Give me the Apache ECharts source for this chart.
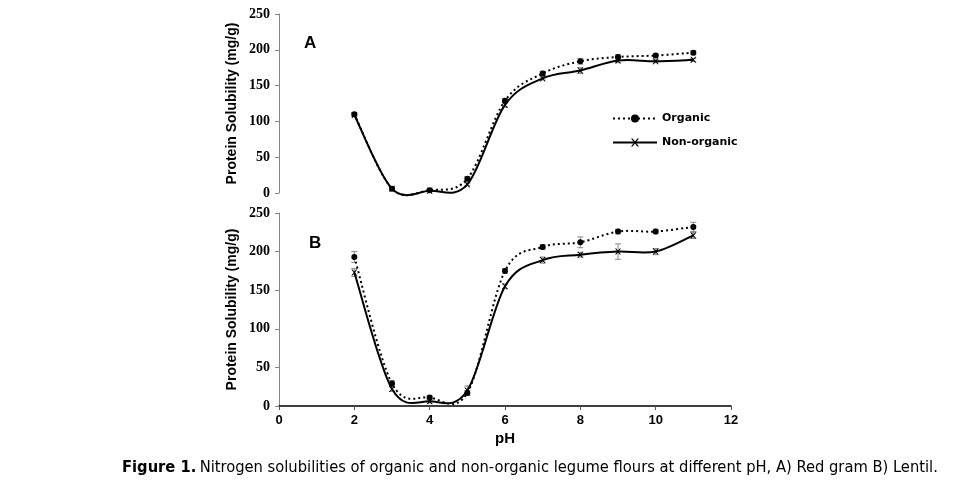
<!DOCTYPE html>
<html><head><meta charset="utf-8">
<script src="https://cdn.jsdelivr.net/npm/echarts@6/dist/echarts.min.js"></script>
<style>html,body{margin:0;padding:0;background:#fff}#c{width:968px;height:488px}</style>
</head><body><div id="c"></div>
<script>
const pH = [2,3,4,5,6,7,8,9,10,11];
const xTicks = [0,2,4,6,8,10,12];
const yTicks = [0,50,100,150,200,250];
// A) Red gram
const redOrganic    = [110, 6, 4, 20, 129, 167, 184, 190, 192, 196];
const redOrganicErr = [2, 2, 1, 3, 3, 3, 4, 3, 2, 3];
const redNon        = [109, 6, 3, 12, 123, 160, 171, 185, 184, 186];
const redNonErr     = [2, 2, 1, 2, 3, 2, 4, 3, 2, 2];
// B) Lentil
const lenOrganic    = [193, 29, 11, 17, 175, 206, 212, 226, 226, 232];
const lenOrganicErr = [7, 4, 2, 3, 3, 3, 7, 3, 3, 6];
const lenNon        = [173, 22, 6, 20, 155, 189, 196, 200, 200, 221];
const lenNonErr     = [5, 3, 2, 6, 3, 4, 3, 10, 4, 4];

const captionBold = 'Figure 1.';
const captionText = 'Nitrogen solubilities of organic and non-organic legume flours at different pH, A) Red gram B) Lentil.';

const chart = echarts.init(document.getElementById('c'));
const pts = (ys) => pH.map((x,i)=>[x, ys[i]]);
const errs = (ys, es) => pH.map((x,i)=>[x, ys[i]-es[i], ys[i]+es[i]]);

function errSeries(ys, es, idx){
  return {
    type:'custom', xAxisIndex:idx, yAxisIndex:idx, z:1, silent:true,
    data: errs(ys, es),
    renderItem:(params, api)=>{
      const lo = api.coord([api.value(0), api.value(1)]);
      const hi = api.coord([api.value(0), api.value(2)]);
      const w = 3;
      const st = {stroke:'#8a8a8a', lineWidth:1};
      return {type:'group', children:[
        {type:'line', shape:{x1:lo[0],y1:lo[1],x2:hi[0],y2:hi[1]}, style:st},
        {type:'line', shape:{x1:lo[0]-w,y1:lo[1],x2:lo[0]+w,y2:lo[1]}, style:st},
        {type:'line', shape:{x1:hi[0]-w,y1:hi[1],x2:hi[0]+w,y2:hi[1]}, style:st}
      ]};
    }
  };
}
// Smooth (Excel-like Catmull-Rom) curve through the data, via the axis scales
function curveSeries(ys, idx, dash){
  const data = pts(ys);
  return {
    type:'custom', xAxisIndex:idx, yAxisIndex:idx, z:2, silent:true,
    data: data,
    renderItem:(params, api)=>{
      if (params.dataIndex !== 0) return null;
      const c = data.map(d => api.coord(d));
      const n = c.length;
      let p = 'M' + c[0][0] + ',' + c[0][1];
      for (let i = 0; i < n-1; i++){
        const p0 = c[Math.max(i-1,0)], p1 = c[i], p2 = c[i+1], p3 = c[Math.min(i+2,n-1)];
        const c1x = p1[0] + (p2[0]-p0[0])/6, c1y = p1[1] + (p2[1]-p0[1])/6;
        const c2x = p2[0] - (p3[0]-p1[0])/6, c2y = p2[1] - (p3[1]-p1[1])/6;
        p += 'C' + c1x + ',' + c1y + ',' + c2x + ',' + c2y + ',' + p2[0] + ',' + p2[1];
      }
      return {type:'path', shape:{pathData:p},
        style:{fill:null, stroke:'#000', lineWidth:2, lineDash: dash || null}};
    }
  };
}
const xMark = 'path://M0,0L2,0L5,3.6L8,0L10,0L6,5L10,10L8,10L5,6.4L2,10L0,10L4,5Z';
function markSeries(name, ys, idx, sym, size){
  return {name, type:'line', xAxisIndex:idx, yAxisIndex:idx, data:pts(ys), z:3,
    symbol:sym, symbolSize:size, itemStyle:{color:'#000'},
    lineStyle:{opacity:0}};
}
const yLabel = {fontFamily:'Liberation Serif', fontWeight:'bold', fontSize:14, color:'#000', margin:9};
const yName = {fontFamily:'Liberation Sans', fontWeight:'bold', fontSize:14, color:'#000'};
function yAxis(idx){
  return {type:'value', gridIndex:idx, min:0, max:250, interval:50,
    name:'Protein Solubility (mg/g)', nameLocation:'middle', nameGap:40, nameTextStyle:yName,
    axisLine:{show:true, lineStyle:{color:'#868686', width:1}},
    axisTick:{show:true, length:4, lineStyle:{color:'#868686'}},
    axisLabel:yLabel, splitLine:{show:false}};
}

// caption font size fitted to the reference caption width
const capFam = '"DejaVu Sans Condensed", "Liberation Sans", sans-serif';
const mctx = document.createElement('canvas').getContext('2d');
mctx.font = 'bold 16px ' + capFam;
let wB = mctx.measureText(captionBold + ' ').width;
mctx.font = '16px ' + capFam;
let wR = mctx.measureText(captionText).width;
const capSize = Math.min(18, 16 * 818 / (wB + wR));

const option = {
  backgroundColor:'#fff',
  animation:false,
  grid:[
    {left:279, right:237, top:14, height:179},
    {left:279, right:237, top:213, bottom:82}
  ],
  xAxis:[
    {type:'value', gridIndex:0, min:0, max:12, interval:2, show:false},
    {type:'value', gridIndex:1, min:0, max:12, interval:2,
      name:'pH', nameLocation:'middle', nameGap:25,
      nameTextStyle:{fontFamily:'Liberation Sans', fontWeight:'bold', fontSize:15, color:'#000'},
      axisLine:{lineStyle:{color:'#000', width:1.5}},
      axisTick:{length:4, lineStyle:{color:'#555'}},
      axisLabel:{fontFamily:'Liberation Sans', fontWeight:'bold', fontSize:13, color:'#000', margin:8},
      splitLine:{show:false}}
  ],
  yAxis:[yAxis(0), yAxis(1)],
  legend:{
    left:607, top:108, orient:'vertical', itemGap:13, itemWidth:44, itemHeight:10,
    data:[
      {name:'Organic', lineStyle:{color:'#000', width:2, type:[2,3], opacity:1}},
      {name:'Non-organic', lineStyle:{color:'#000', width:2, type:'solid', opacity:1}}
    ],
    textStyle:{fontFamily:'DejaVu Sans', fontWeight:'bold', fontSize:11, color:'#000'}
  },
  series:[
    errSeries(redOrganic, redOrganicErr, 0),
    errSeries(redNon, redNonErr, 0),
    curveSeries(redOrganic, 0, [2,3]),
    curveSeries(redNon, 0, null),
    markSeries('Organic', redOrganic, 0, 'circle', 6),
    markSeries('Non-organic', redNon, 0, xMark, 6),
    errSeries(lenOrganic, lenOrganicErr, 1),
    errSeries(lenNon, lenNonErr, 1),
    curveSeries(lenOrganic, 1, [2,3]),
    curveSeries(lenNon, 1, null),
    markSeries('Organic', lenOrganic, 1, 'circle', 6),
    markSeries('Non-organic', lenNon, 1, xMark, 6)
  ],
  graphic:[
    {type:'text', left:304, top:35, style:{text:'A', font:'bold 17px "Liberation Sans"', fill:'#000'}},
    {type:'text', left:309, top:235, style:{text:'B', font:'bold 17px "Liberation Sans"', fill:'#000'}},
    {type:'text', left:122, top:460, style:{
      text:'{b|' + captionBold + '} {r|' + captionText + '}',
      rich:{
        b:{font:'bold ' + capSize + 'px ' + capFam, fill:'#000'},
        r:{font:capSize + 'px ' + capFam, fill:'#000'}
      }}}
  ]
};
chart.setOption(option);
</script></body></html>
